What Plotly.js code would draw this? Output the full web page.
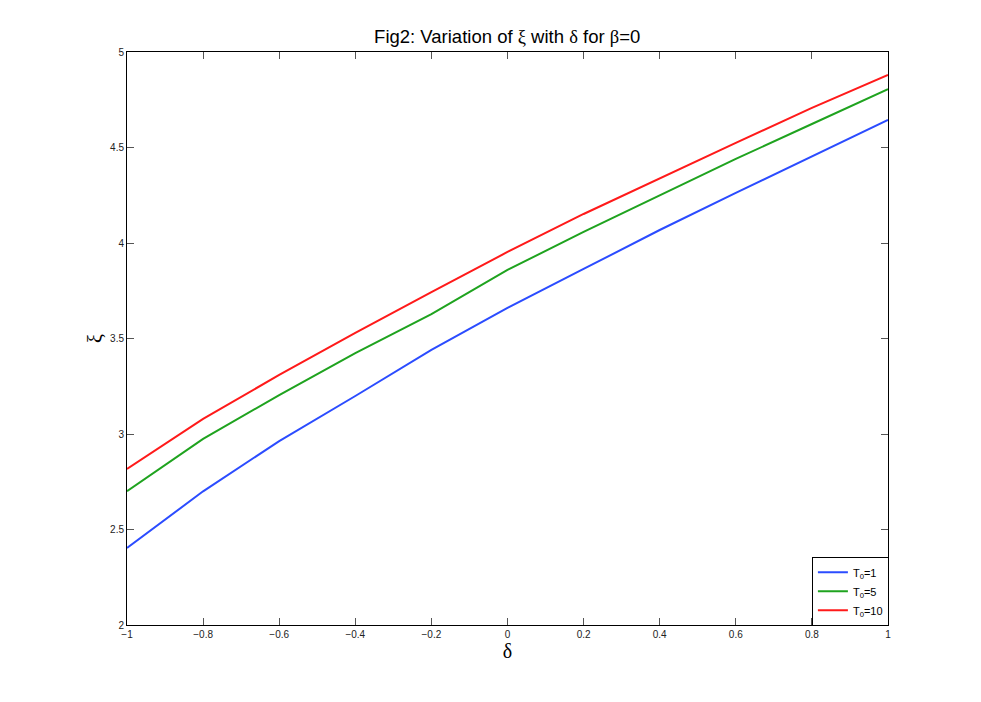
<!DOCTYPE html>
<html>
<head>
<meta charset="utf-8">
<script src="https://cdn.plot.ly/plotly-3.0.1.min.js"></script>
<style>html,body{margin:0;padding:0;background:#fff;}#chart{width:981px;height:702px;}</style>
</head>
<body>
<div id="chart"></div>
<script>
var delta = [-1, -0.8, -0.6, -0.4, -0.2, 0, 0.2, 0.4, 0.6, 0.8, 1];
var xiT1  = [2.403, 2.700, 2.963, 3.199, 3.440, 3.660, 3.864, 4.068, 4.262, 4.455, 4.644];
var xiT5  = [2.700, 2.974, 3.204, 3.424, 3.628, 3.859, 4.058, 4.251, 4.440, 4.623, 4.806];
var xiT10 = [2.817, 3.079, 3.309, 3.529, 3.743, 3.953, 4.152, 4.340, 4.524, 4.707, 4.880];
var seriesNames = ['T<sub>0</sub>=1', 'T<sub>0</sub>=5', 'T<sub>0</sub>=10'];
var seriesColors = ['#2b4cff', '#1fa31f', '#ff1a1a'];
var allSeries = [xiT1, xiT5, xiT10];

var traces = allSeries.map(function(ys, i){
  return {x: delta, y: ys, type: 'scatter', mode: 'lines', name: seriesNames[i],
          line: {color: seriesColors[i], width: 2}};
});

var serif = 'Liberation Serif, Times New Roman, serif';
var axisCommon = {
  showgrid: false, zeroline: false, showline: true, linecolor: '#000', linewidth: 1,
  mirror: 'ticks', ticks: 'inside', ticklen: 7, tickcolor: '#555', tickwidth: 1,
  tickfont: {family: 'Liberation Sans, Arial, sans-serif', size: 10, color: '#222'}
};

var layout = {
  width: 981, height: 702,
  paper_bgcolor: '#fff', plot_bgcolor: '#fff',
  margin: {l: 127, r: 93, t: 52, b: 77},
  title: {text: 'Fig2: Variation of <span style="font-family:' + serif + '">ξ</span> with <span style="font-family:' + serif + '">δ</span> for <span style="font-family:' + serif + '">β</span>=0',
          font: {family: 'Liberation Sans, Arial, sans-serif', size: 18.5, color: '#000'},
          x: 0.517, xanchor: 'center', y: 0.948, yanchor: 'middle'},
  xaxis: Object.assign({}, axisCommon, {
    range: [-1, 1], dtick: 0.2, tick0: -1,
    title: {text: 'δ', font: {family: serif, size: 20, color: '#000'}, standoff: 4}
  }),
  yaxis: Object.assign({}, axisCommon, {
    range: [2, 5], dtick: 0.5, tick0: 2,
    title: {text: 'ξ', font: {family: serif, size: 20, color: '#000'}, standoff: 2}
  }),
  legend: {x: 0.9, y: 0.119, xanchor: 'left', yanchor: 'top',
           bgcolor: '#fff', bordercolor: '#000', borderwidth: 1,
           font: {family: 'Liberation Sans, Arial, sans-serif', size: 11, color: '#000'},
           tracegroupgap: 0, itemwidth: 30},
  showlegend: true
};

Plotly.newPlot('chart', traces, layout, {displayModeBar: false, staticPlot: true});
</script>
</body>
</html>
